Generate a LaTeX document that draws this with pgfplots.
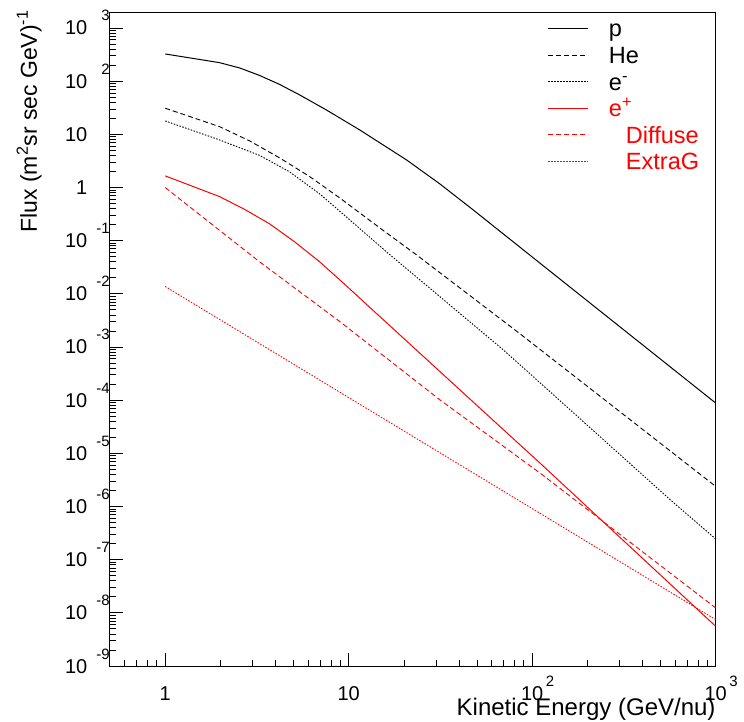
\documentclass[border=0pt]{standalone}
\usepackage{fontspec}
\setmainfont{Liberation Sans}
\usepackage{pgfplots}
\pgfplotsset{compat=1.18}

% ROOT-like labels: "10" with the exponent raised beside it
\newcommand{\ylab}[1]{10\rlap{\makebox[22.5pt][r]{\raisebox{14pt}{\fontsize{15}{15}\selectfont #1}}}}
\newcommand{\xlab}[1]{10\rlap{\hspace{2.5pt}\raisebox{14pt}{\fontsize{15}{15}\selectfont #1}}}

\begin{document}
\begin{tikzpicture}
\begin{axis}[
    name=ax,
    xmode=log, ymode=log,
    scale only axis,
    width=605.7pt, height=653pt,
    xmin=0.5, xmax=1000,
    ymin=1e-9, ymax=1914,
    axis line style={line width=1pt},
    tick align=inside,
    xtick pos=bottom, ytick pos=left,
    major tick length=13pt, minor tick length=6.5pt,
    every tick/.style={black, line width=0.8pt},
    xtick={1,10,100,1000},
    xticklabels={1,10,\xlab{2},\xlab{3}},
    minor xtick={0.6,0.7,0.8,0.9,2,3,4,5,6,7,8,9,20,30,40,50,60,70,80,90,200,300,400,500,600,700,800,900},
    ytick={1e-9,1e-8,1e-7,1e-6,1e-5,1e-4,1e-3,1e-2,1e-1,1,10,100,1000},
    yticklabels={\ylab{-9},\ylab{-8},\ylab{-7},\ylab{-6},\ylab{-5},\ylab{-4},\ylab{-3},\ylab{-2},\ylab{-1},{1\hspace{-4pt}},10,\ylab{2},\ylab{3}},
    minor ytick={2e-9,3e-9,4e-9,5e-9,6e-9,7e-9,8e-9,9e-9,
                 2e-8,3e-8,4e-8,5e-8,6e-8,7e-8,8e-8,9e-8,
                 2e-7,3e-7,4e-7,5e-7,6e-7,7e-7,8e-7,9e-7,
                 2e-6,3e-6,4e-6,5e-6,6e-6,7e-6,8e-6,9e-6,
                 2e-5,3e-5,4e-5,5e-5,6e-5,7e-5,8e-5,9e-5,
                 2e-4,3e-4,4e-4,5e-4,6e-4,7e-4,8e-4,9e-4,
                 2e-3,3e-3,4e-3,5e-3,6e-3,7e-3,8e-3,9e-3,
                 0.02,0.03,0.04,0.05,0.06,0.07,0.08,0.09,
                 0.2,0.3,0.4,0.5,0.6,0.7,0.8,0.9,
                 2,3,4,5,6,7,8,9,
                 20,30,40,50,60,70,80,90,
                 200,300,400,500,600,700,800,900},
    ticklabel style={font=\fontsize{20}{20}\selectfont},
    yticklabel style={anchor=base east, inner sep=0pt, xshift=-22.5pt, yshift=-7pt},
    xticklabel style={anchor=base, inner sep=0pt, yshift=-34pt},
    xlabel={Kinetic Energy (GeV/nu)},
    xlabel style={at={(rel axis cs:1,0)}, anchor=base east, inner sep=0pt, yshift=-49pt,
                  font=\fontsize{24}{24}\selectfont},
    ylabel={Flux (m\textsuperscript{2}sr sec GeV)\textsuperscript{-1}},
    ylabel style={at={([xshift=-73pt,yshift=3pt]rel axis cs:0,1)}, anchor=base east, inner sep=0pt,
                  font=\fontsize{23}{23}\selectfont},
    legend style={at={(rel axis cs:0.7231,1)}, anchor=north west, yshift=-8pt,
                  draw=none, fill=none, inner sep=0pt, outer sep=0pt,
                  font=\fontsize{23.5}{23.5}\selectfont, row sep=5.6pt,
                  nodes={inner sep=0pt, text height=16pt, text depth=5pt},
                  /tikz/every odd column/.append style={column sep=20pt}},
    legend cell align=left,
    legend image code/.code={\draw[#1] (0pt,3pt) -- (40pt,3pt);},
]
% p
\addplot[black, line width=1pt] coordinates {
 (1,324.6) (1.978,222.7) (2.544,177.1) (3.269,128.0) (4.203,86.70) (5.404,55.04)
 (7.554,28.74) (11.48,12.10) (20.65,3.303) (31.37,1.169) (47.66,0.3792)
 (110.2,0.03777) (1000,8.82e-5)};
\addlegendentry{p}
% He
\addplot[black, line width=0.9pt, dash pattern=on 5pt off 3pt] coordinates {
 (1,30.94) (1.978,13.96) (2.884,7.515) (4.203,3.601) (6.127,1.603) (8.931,0.6375)
 (14.76,0.1740) (23.41,0.05408) (85.82,1.770e-3) (1000,2.386e-6)};
\addlegendentry{He}
% e-
\addplot[black, line width=0.9pt, dash pattern=on 1.5pt off 1.5pt] coordinates {
 (1,17.86) (1.978,7.848) (3.269,4.013) (4.766,1.965) (6.948,0.7581) (10.13,0.2460)
 (16.06,0.0616) (69.48,8.859e-4) (85.82,4.628e-4) (564.8,1.342e-6) (1000,2.449e-7)};
\addlegendentry{e\textsuperscript{-}}
% e+
\addplot[red, line width=1pt] coordinates {
 (1,1.652) (1.978,0.6744) (2.708,0.3876) (3.707,0.2069) (5.076,0.09493) (6.948,0.03996)
 (9.511,0.01509) (13.02,5.574e-3) (31.37,3.463e-4) (66.66,3.203e-5) (110.2,6.572e-6)
 (1000,5.575e-9)};
\addlegendentry{\textcolor{red}{e\textsuperscript{+}}}
% Diffuse
\addplot[red, line width=0.9pt, dash pattern=on 5pt off 3pt] coordinates {
 (1,0.9956) (3.269,0.03996) (8.931,3.015e-3) (31.37,1.017e-4) (110.2,4.263e-6) (1000,1.236e-8)};
\addlegendentry{\textcolor{red}{\hspace{17pt}Diffuse}}
% ExtraG
\addplot[red, line width=0.9pt, dash pattern=on 1.5pt off 1.5pt] coordinates {
 (1,0.01372) (10,1.119e-4) (100,9.14e-7) (1000,7.45e-9)};
\addlegendentry{\textcolor{red}{\hspace{17pt}ExtraG}}
\end{axis}
\pgfresetboundingbox
\path[use as bounding box] ([shift={(-110pt,-56pt)}]ax.south west) rectangle ([shift={(28.3pt,13pt)}]ax.north east);
\end{tikzpicture}
\end{document}
